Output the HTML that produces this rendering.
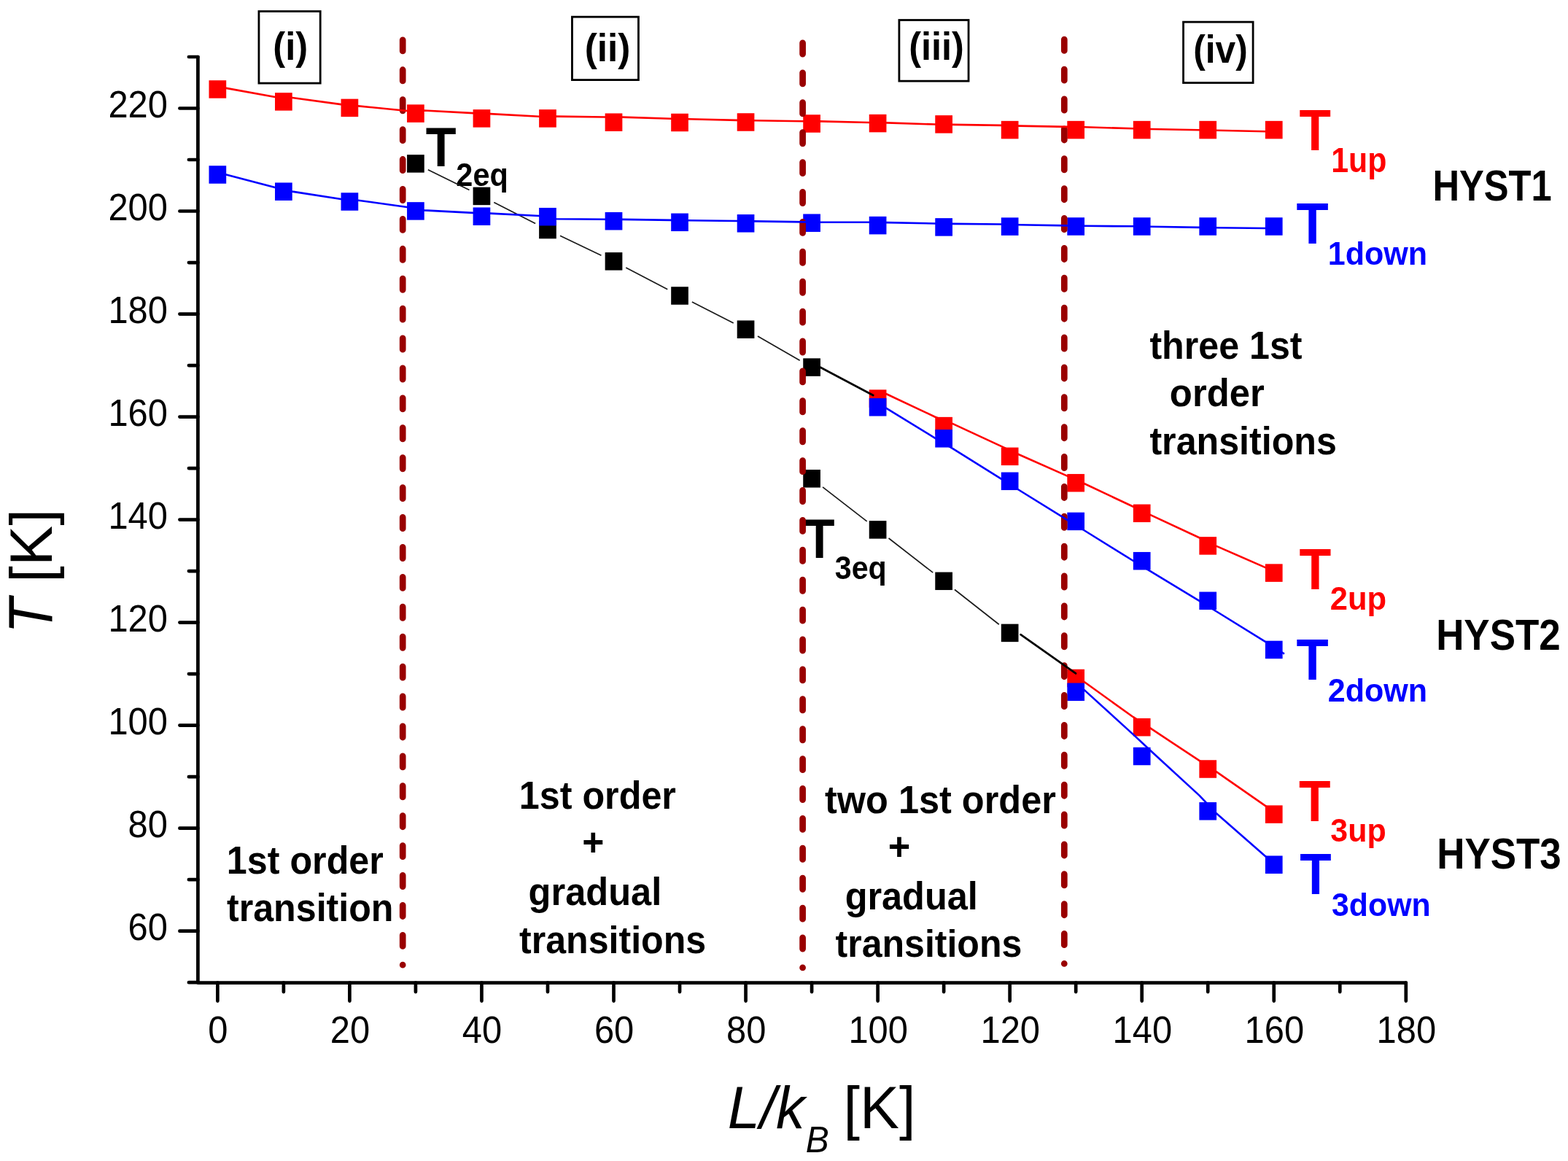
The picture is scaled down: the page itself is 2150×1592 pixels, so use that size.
<!DOCTYPE html>
<html lang="en"><head><meta charset="utf-8"><title>Phase diagram: T [K] versus L/kB [K]</title>
<style>
html,body{margin:0;padding:0;background:#fff;}
svg{display:block;font-family:"Liberation Sans",sans-serif;}
</style></head>
<body>
<svg width="2150" height="1592" viewBox="0 0 2150 1592">
<rect width="2150" height="1592" fill="#fff"/>
<g stroke="#000" stroke-width="4.7" stroke-linecap="round" stroke-linejoin="round" fill="none">
<path d="M271.4 77.99V1347.55H1927.80"/>
<path d="M258.90 1347.17H271.4M246.40 1276.66H271.4M258.90 1206.15H271.4M246.40 1135.64H271.4M258.90 1065.13H271.4M246.40 994.62H271.4M258.90 924.11H271.4M246.40 853.60H271.4M258.90 783.09H271.4M246.40 712.58H271.4M258.90 642.07H271.4M246.40 571.56H271.4M258.90 501.05H271.4M246.40 430.54H271.4M258.90 360.03H271.4M246.40 289.52H271.4M258.90 219.01H271.4M246.40 148.50H271.4M258.90 77.99H271.4M298.35 1347.55V1372.55M388.88 1347.55V1360.05M479.40 1347.55V1372.55M569.92 1347.55V1360.05M660.45 1347.55V1372.55M750.98 1347.55V1360.05M841.50 1347.55V1372.55M932.03 1347.55V1360.05M1022.55 1347.55V1372.55M1113.08 1347.55V1360.05M1203.60 1347.55V1372.55M1294.12 1347.55V1360.05M1384.65 1347.55V1372.55M1475.18 1347.55V1360.05M1565.70 1347.55V1372.55M1656.22 1347.55V1360.05M1746.75 1347.55V1372.55M1837.28 1347.55V1360.05M1927.80 1347.55V1372.55"/>
</g>
<rect x="354.95" y="15.55" width="84.25" height="98.55" fill="none" stroke="#000" stroke-width="2.8"/>
<rect x="784.45" y="23.15" width="91.00" height="86.45" fill="none" stroke="#000" stroke-width="2.8"/>
<rect x="1232.90" y="27.50" width="95.15" height="83.65" fill="none" stroke="#000" stroke-width="2.8"/>
<rect x="1622.55" y="30.15" width="95.55" height="83.40" fill="none" stroke="#000" stroke-width="2.8"/>
<g>
<text transform="translate(175.53 1289.26) scale(0.9716 1.0292)" font-size="50.33">60</text>
<text transform="translate(175.53 1148.24) scale(0.9716 1.0292)" font-size="50.33">80</text>
<text transform="translate(148.39 1007.22) scale(0.9716 1.0292)" font-size="50.33">100</text>
<text transform="translate(148.39 866.20) scale(0.9716 1.0292)" font-size="50.33">120</text>
<text transform="translate(148.39 725.18) scale(0.9716 1.0292)" font-size="50.33">140</text>
<text transform="translate(148.39 584.16) scale(0.9716 1.0292)" font-size="50.33">160</text>
<text transform="translate(148.39 443.14) scale(0.9716 1.0292)" font-size="50.33">180</text>
<text transform="translate(148.39 302.12) scale(0.9716 1.0292)" font-size="50.33">200</text>
<text transform="translate(148.39 161.10) scale(0.9716 1.0292)" font-size="50.33">220</text>
<text transform="translate(285.35 1429.50) scale(0.9716 1.0292)" font-size="50.33">0</text>
<text transform="translate(452.80 1429.50) scale(0.9716 1.0292)" font-size="50.33">20</text>
<text transform="translate(633.85 1429.50) scale(0.9716 1.0292)" font-size="50.33">40</text>
<text transform="translate(814.90 1429.50) scale(0.9716 1.0292)" font-size="50.33">60</text>
<text transform="translate(995.95 1429.50) scale(0.9716 1.0292)" font-size="50.33">80</text>
<text transform="translate(1163.41 1429.50) scale(0.9716 1.0292)" font-size="50.33">100</text>
<text transform="translate(1344.46 1429.50) scale(0.9716 1.0292)" font-size="50.33">120</text>
<text transform="translate(1525.51 1429.50) scale(0.9716 1.0292)" font-size="50.33">140</text>
<text transform="translate(1706.56 1429.50) scale(0.9716 1.0292)" font-size="50.33">160</text>
<text transform="translate(1887.61 1429.50) scale(0.9716 1.0292)" font-size="50.33">180</text>
<g><text transform="translate(71.00 868.72) rotate(-90) scale(0.9637 1.0377)" font-size="82.12" font-style="italic">T</text><text transform="translate(70.81 798.88) rotate(-90) scale(1.0073 0.9927)" font-size="81.99">[K]</text></g>
<g><text transform="translate(997.82 1547.38) scale(0.9804 1.0199)" font-size="80.84" font-style="italic">L/k</text><text transform="translate(1104.66 1579.50) scale(0.9776 1.0227)" font-size="49.03" font-style="italic">B</text><text transform="translate(1156.44 1547.42) scale(1.0004 0.9996)" font-size="80.89">[K]</text></g>
<g><text transform="translate(1781.59 205.50) scale(0.9463 1.0569)" font-size="75.14" font-weight="bold" fill="#ff0000">T</text><text transform="translate(1825.27 235.87) scale(0.9470 1.0561)" font-size="45.24" font-weight="bold" fill="#ff0000">1up</text></g>
<g><text transform="translate(1777.38 333.59) scale(0.9573 1.0447)" font-size="75.6" font-weight="bold" fill="#0000ff">T</text><text transform="translate(1820.70 363.15) scale(0.9827 1.0177)" font-size="43.85" font-weight="bold" fill="#0000ff">1down</text></g>
<g><text transform="translate(1781.38 807.90) scale(0.9467 1.0564)" font-size="75.73" font-weight="bold" fill="#ff0000">T</text><text transform="translate(1823.78 836.09) scale(0.9806 1.0199)" font-size="44.39" font-weight="bold" fill="#ff0000">2up</text></g>
<g><text transform="translate(1777.38 931.79) scale(0.9573 1.0447)" font-size="75.6" font-weight="bold" fill="#0000ff">T</text><text transform="translate(1820.69 961.76) scale(0.9857 1.0145)" font-size="43.72" font-weight="bold" fill="#0000ff">2down</text></g>
<g><text transform="translate(1781.09 1125.69) scale(0.9499 1.0526)" font-size="75.03" font-weight="bold" fill="#ff0000">T</text><text transform="translate(1824.23 1154.22) scale(0.9755 1.0251)" font-size="44.06" font-weight="bold" fill="#ff0000">3up</text></g>
<g><text transform="translate(1782.29 1226.39) scale(0.9483 1.0546)" font-size="74.89" font-weight="bold" fill="#0000ff">T</text><text transform="translate(1826.03 1256.35) scale(0.9737 1.0271)" font-size="43.98" font-weight="bold" fill="#0000ff">3down</text></g>
<g><text transform="translate(583.82 227.78) scale(0.9506 1.0519)" font-size="72.03" font-weight="bold">T</text><text transform="translate(625.35 254.99) scale(0.9726 1.0280)" font-size="42.65" font-weight="bold">2eq</text></g>
<g><text transform="translate(1102.82 765.33) scale(0.9484 1.0545)" font-size="72.2" font-weight="bold">T</text><text transform="translate(1144.77 793.58) scale(0.9590 1.0429)" font-size="42.99" font-weight="bold">3eq</text></g>
<text transform="translate(1964.41 274.71) scale(0.9233 1.0830)" font-size="54.88" font-weight="bold">HYST1</text>
<text transform="translate(1969.16 890.91) scale(0.9480 1.0547)" font-size="55.82" font-weight="bold">HYST2</text>
<text transform="translate(1970.26 1191.26) scale(0.9452 1.0582)" font-size="55.97" font-weight="bold">HYST3</text>
<text transform="translate(374.36 81.95) scale(0.9672 1.0341)" font-size="52.49" font-weight="bold">(i)</text>
<text transform="translate(801.74 83.55) scale(0.9697 1.0311)" font-size="52.9" font-weight="bold">(ii)</text>
<text transform="translate(1246.28 82.04) scale(0.9635 1.0381)" font-size="52.34" font-weight="bold">(iii)</text>
<text transform="translate(1636.22 85.65) scale(0.9566 1.0452)" font-size="51.93" font-weight="bold">(iv)</text>
<text transform="translate(310.83 1198.26) scale(0.9669 1.0343)" font-size="51.96" font-weight="bold">1st order</text>
<text transform="translate(311.00 1263.37) scale(0.9749 1.0258)" font-size="51.46" font-weight="bold">transition</text>
<text transform="translate(711.83 1109.26) scale(0.9658 1.0353)" font-size="52.04" font-weight="bold">1st order</text>
<text transform="translate(798.24 1172.92) scale(0.9880 1.0122)" font-size="52.11" font-weight="bold">+</text>
<text transform="translate(724.58 1240.51) scale(0.9772 1.0232)" font-size="51.78" font-weight="bold">gradual</text>
<text transform="translate(712.00 1306.58) scale(0.9781 1.0223)" font-size="51.24" font-weight="bold">transitions</text>
<text transform="translate(1131.00 1115.16) scale(0.9679 1.0329)" font-size="52.16" font-weight="bold">two 1st order</text>
<text transform="translate(1217.81 1179.32) scale(0.9956 1.0045)" font-size="52.51" font-weight="bold">+</text>
<text transform="translate(1158.63 1246.73) scale(0.9768 1.0239)" font-size="51.64" font-weight="bold">gradual</text>
<text transform="translate(1145.55 1312.07) scale(0.9762 1.0243)" font-size="51.27" font-weight="bold">transitions</text>
<text transform="translate(1576.40 491.86) scale(0.9639 1.0375)" font-size="52.06" font-weight="bold">three 1st</text>
<text transform="translate(1603.87 557.07) scale(0.9773 1.0234)" font-size="51.98" font-weight="bold">order</text>
<text transform="translate(1576.40 622.86) scale(0.9676 1.0337)" font-size="51.86" font-weight="bold">transitions</text>
</g>
<g>
<rect x="558.07" y="212.15" width="23.7" height="24.5" fill="#000000"/>
<rect x="648.60" y="256.65" width="23.7" height="24.5" fill="#000000"/>
<rect x="739.12" y="302.75" width="23.7" height="24.5" fill="#000000"/>
<rect x="829.65" y="346.10" width="23.7" height="24.5" fill="#000000"/>
<rect x="920.18" y="393.25" width="23.7" height="24.5" fill="#000000"/>
<rect x="1010.70" y="439.45" width="23.7" height="24.5" fill="#000000"/>
<rect x="1101.23" y="491.35" width="23.7" height="24.5" fill="#000000"/>
<rect x="1101.23" y="644.05" width="23.7" height="24.5" fill="#000000"/>
<rect x="1191.75" y="714.15" width="23.7" height="24.5" fill="#000000"/>
<rect x="1282.28" y="784.55" width="23.7" height="24.5" fill="#000000"/>
<rect x="1372.80" y="855.65" width="23.7" height="24.5" fill="#000000"/>
<rect x="286.50" y="110.20" width="23.7" height="24.5" fill="#ff0000"/>
<rect x="377.02" y="127.15" width="23.7" height="24.5" fill="#ff0000"/>
<rect x="467.55" y="135.65" width="23.7" height="24.5" fill="#ff0000"/>
<rect x="558.07" y="143.35" width="23.7" height="24.5" fill="#ff0000"/>
<rect x="648.60" y="150.15" width="23.7" height="24.5" fill="#ff0000"/>
<rect x="739.12" y="150.15" width="23.7" height="24.5" fill="#ff0000"/>
<rect x="829.65" y="155.45" width="23.7" height="24.5" fill="#ff0000"/>
<rect x="920.18" y="155.75" width="23.7" height="24.5" fill="#ff0000"/>
<rect x="1010.70" y="155.25" width="23.7" height="24.5" fill="#ff0000"/>
<rect x="1101.23" y="157.25" width="23.7" height="24.5" fill="#ff0000"/>
<rect x="1191.75" y="156.85" width="23.7" height="24.5" fill="#ff0000"/>
<rect x="1282.28" y="158.15" width="23.7" height="24.5" fill="#ff0000"/>
<rect x="1372.80" y="165.85" width="23.7" height="24.5" fill="#ff0000"/>
<rect x="1463.33" y="165.85" width="23.7" height="24.5" fill="#ff0000"/>
<rect x="1553.85" y="165.85" width="23.7" height="24.5" fill="#ff0000"/>
<rect x="1644.38" y="165.85" width="23.7" height="24.5" fill="#ff0000"/>
<rect x="1734.90" y="165.85" width="23.7" height="24.5" fill="#ff0000"/>
<rect x="1191.75" y="534.35" width="23.7" height="24.5" fill="#ff0000"/>
<rect x="1282.28" y="571.85" width="23.7" height="24.5" fill="#ff0000"/>
<rect x="1372.80" y="613.60" width="23.7" height="24.5" fill="#ff0000"/>
<rect x="1463.33" y="649.95" width="23.7" height="24.5" fill="#ff0000"/>
<rect x="1553.85" y="691.55" width="23.7" height="24.5" fill="#ff0000"/>
<rect x="1644.38" y="736.15" width="23.7" height="24.5" fill="#ff0000"/>
<rect x="1734.90" y="773.35" width="23.7" height="24.5" fill="#ff0000"/>
<rect x="1463.33" y="917.75" width="23.7" height="24.5" fill="#ff0000"/>
<rect x="1553.85" y="984.95" width="23.7" height="24.5" fill="#ff0000"/>
<rect x="1644.38" y="1042.25" width="23.7" height="24.5" fill="#ff0000"/>
<rect x="1734.90" y="1104.35" width="23.7" height="24.5" fill="#ff0000"/>
<rect x="286.50" y="227.25" width="23.7" height="24.5" fill="#0000ff"/>
<rect x="377.02" y="250.45" width="23.7" height="24.5" fill="#0000ff"/>
<rect x="467.55" y="264.25" width="23.7" height="24.5" fill="#0000ff"/>
<rect x="558.07" y="277.15" width="23.7" height="24.5" fill="#0000ff"/>
<rect x="648.60" y="284.45" width="23.7" height="24.5" fill="#0000ff"/>
<rect x="739.12" y="284.95" width="23.7" height="24.5" fill="#0000ff"/>
<rect x="829.65" y="290.95" width="23.7" height="24.5" fill="#0000ff"/>
<rect x="920.18" y="292.55" width="23.7" height="24.5" fill="#0000ff"/>
<rect x="1010.70" y="294.05" width="23.7" height="24.5" fill="#0000ff"/>
<rect x="1101.23" y="293.45" width="23.7" height="24.5" fill="#0000ff"/>
<rect x="1191.75" y="296.85" width="23.7" height="24.5" fill="#0000ff"/>
<rect x="1282.28" y="299.15" width="23.7" height="24.5" fill="#0000ff"/>
<rect x="1372.80" y="298.35" width="23.7" height="24.5" fill="#0000ff"/>
<rect x="1463.33" y="298.25" width="23.7" height="24.5" fill="#0000ff"/>
<rect x="1553.85" y="298.25" width="23.7" height="24.5" fill="#0000ff"/>
<rect x="1644.38" y="298.25" width="23.7" height="24.5" fill="#0000ff"/>
<rect x="1734.90" y="298.25" width="23.7" height="24.5" fill="#0000ff"/>
<rect x="1191.75" y="546.05" width="23.7" height="24.5" fill="#0000ff"/>
<rect x="1282.28" y="589.05" width="23.7" height="24.5" fill="#0000ff"/>
<rect x="1372.80" y="647.55" width="23.7" height="24.5" fill="#0000ff"/>
<rect x="1463.33" y="702.65" width="23.7" height="24.5" fill="#0000ff"/>
<rect x="1553.85" y="756.95" width="23.7" height="24.5" fill="#0000ff"/>
<rect x="1644.38" y="811.55" width="23.7" height="24.5" fill="#0000ff"/>
<rect x="1734.90" y="878.70" width="23.7" height="24.5" fill="#0000ff"/>
<rect x="1463.33" y="936.55" width="23.7" height="24.5" fill="#0000ff"/>
<rect x="1553.85" y="1024.75" width="23.7" height="24.5" fill="#0000ff"/>
<rect x="1644.38" y="1100.05" width="23.7" height="24.5" fill="#0000ff"/>
<rect x="1734.90" y="1173.45" width="23.7" height="24.5" fill="#0000ff"/>
</g>
<line x1="552.2" y1="54.8" x2="552.2" y2="1323.26" stroke="#990000" stroke-width="8.7" stroke-linecap="round" stroke-dasharray="15.2 25.715"/>
<line x1="1100.6" y1="58.9" x2="1100.6" y2="1326.90" stroke="#990000" stroke-width="8.7" stroke-linecap="round" stroke-dasharray="15.2 25.700"/>
<line x1="1459.3" y1="54.2" x2="1459.3" y2="1321.42" stroke="#990000" stroke-width="8.7" stroke-linecap="round" stroke-dasharray="15.2 25.675"/>
<g stroke-linejoin="round">
<line x1="586.89" y1="232.74" x2="643.49" y2="260.56" stroke="#1a1a1a" stroke-width="1.7" />
<line x1="677.29" y1="277.48" x2="734.13" y2="306.42" stroke="#1a1a1a" stroke-width="1.7" />
<line x1="768.02" y1="323.16" x2="824.45" y2="350.19" stroke="#1a1a1a" stroke-width="1.7" />
<line x1="858.26" y1="367.08" x2="915.26" y2="396.77" stroke="#1a1a1a" stroke-width="1.7" />
<line x1="948.86" y1="414.09" x2="1005.72" y2="443.11" stroke="#1a1a1a" stroke-width="1.7" />
<line x1="1038.95" y1="461.10" x2="1096.68" y2="494.20" stroke="#1a1a1a" stroke-width="1.7" />
<line x1="1128.02" y1="667.87" x2="1188.66" y2="714.83" stroke="#1a1a1a" stroke-width="1.7" />
<line x1="1218.52" y1="738.00" x2="1279.21" y2="785.20" stroke="#1a1a1a" stroke-width="1.7" />
<line x1="1308.99" y1="808.47" x2="1369.79" y2="856.23" stroke="#1a1a1a" stroke-width="1.7" />
<polyline points="298.35,118.70 310.20,120.90 377.02,133.00 400.73,134.00 467.55,143.10 491.25,145.40 558.07,152.00 581.77,151.50 648.60,155.10 672.30,156.10 739.12,159.70 762.83,159.60 829.65,160.50 853.35,160.60 920.18,162.80 943.88,163.20 1010.70,164.90 1034.40,165.20 1101.23,166.30 1124.92,166.40 1191.75,168.00 1215.45,168.40 1282.28,170.50 1305.97,170.90 1372.80,171.90 1396.50,172.60 1463.33,173.90 1487.03,174.30 1553.85,176.30 1577.55,177.00 1644.38,178.20 1668.07,178.70 1734.90,180.30 1746.75,180.60" fill="none" stroke="#ff0000" stroke-width="2.6" />
<polyline points="1203.60,536.40 1215.45,540.20 1282.28,571.70 1305.97,580.90 1372.80,611.90 1396.50,623.00 1463.33,652.60 1487.03,663.30 1553.85,694.80 1577.55,706.10 1644.38,737.30 1668.07,748.90 1734.90,778.10 1746.75,783.40" fill="none" stroke="#ff0000" stroke-width="2.6" />
<polyline points="1475.18,925.40 1487.03,935.30 1553.85,983.20 1577.55,998.70 1644.38,1042.90 1668.07,1058.40 1734.90,1104.90 1746.75,1113.30" fill="none" stroke="#ff0000" stroke-width="2.6" />
<polyline points="298.35,236.30 310.20,239.50 377.02,257.00 400.73,262.60 467.55,273.00 491.25,274.70 558.07,284.00 581.77,288.40 648.60,291.90 672.30,292.60 739.12,296.00 762.83,300.20 829.65,300.70 853.35,300.90 920.18,301.90 943.88,302.30 1010.70,303.00 1034.40,303.40 1101.23,304.35 1124.92,304.70 1191.75,304.70 1215.45,305.10 1282.28,306.50 1305.97,306.90 1372.80,307.50 1396.50,308.20 1463.33,309.40 1487.03,309.80 1553.85,310.30 1577.55,310.80 1644.38,311.90 1668.07,312.20 1734.90,313.00 1746.75,313.20" fill="none" stroke="#0000ff" stroke-width="2.6" />
<polyline points="1203.60,552.90 1215.45,559.80 1282.28,600.80 1305.97,614.80 1372.80,656.60 1396.50,671.50 1463.33,712.90 1487.03,727.50 1553.85,769.00 1577.55,783.40 1644.38,823.90 1668.07,838.50 1734.90,879.80 1758.60,895.00 1761.00,896.60" fill="none" stroke="#0000ff" stroke-width="2.6" />
<polyline points="1478.48,938.40 1487.03,946.40 1553.85,1007.10 1577.55,1029.20 1644.38,1090.60 1668.07,1115.60 1734.90,1174.10 1746.75,1184.60" fill="none" stroke="#0000ff" stroke-width="2.6" />
<line x1="1125.00" y1="503.80" x2="1197.20" y2="542.00" stroke="#000000" stroke-width="2.8" stroke-linecap="round"/>
<line x1="1399.50" y1="870.20" x2="1475.00" y2="923.40" stroke="#000000" stroke-width="2.8" stroke-linecap="round"/>
</g>
</svg>
</body></html>
